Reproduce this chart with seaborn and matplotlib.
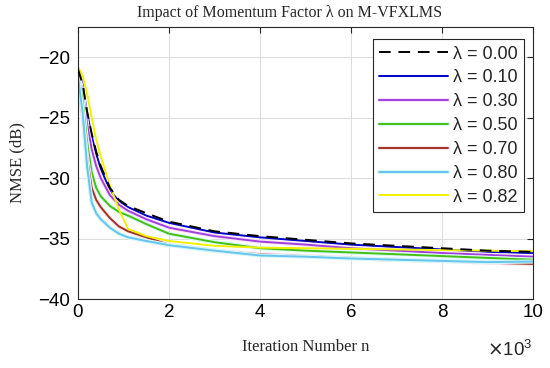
import matplotlib
matplotlib.use('Agg')
from matplotlib import pyplot as plt
from matplotlib.ticker import FuncFormatter
import matplotlib.patheffects as pe
import seaborn as sns
import pandas as pd
import numpy as np

# iteration index and NMSE (dB) curves
iters = [0, 100, 200, 300, 400, 500, 700, 900, 1100, 1500, 2000,
         3000, 4000, 5000, 6000, 7000, 8000, 9000, 10000]
nmse_000 = [-21.0, -22.2, -24.5, -26.3, -27.8, -29.0, -30.8, -31.8, -32.3, -32.9, -33.6,
            -34.4, -34.8, -35.1, -35.4, -35.6, -35.8, -36.0, -36.1]
nmse_010 = [-21.0, -22.2, -24.6, -26.5, -28.0, -29.2, -31.0, -31.9, -32.4, -33.1, -33.7,
            -34.5, -34.9, -35.2, -35.5, -35.7, -35.9, -36.1, -36.2]
nmse_030 = [-21.2, -22.8, -25.5, -27.6, -29.0, -30.0, -31.4, -32.2, -32.7, -33.4, -34.1,
            -34.8, -35.25, -35.5, -35.8, -36.0, -36.2, -36.35, -36.5]
nmse_050 = [-21.3, -23.5, -27.0, -29.5, -30.8, -31.5, -32.3, -32.8, -33.1, -33.8, -34.6,
            -35.3, -35.8, -36.0, -36.15, -36.3, -36.45, -36.6, -36.75]
nmse_070 = [-22.0, -25.0, -28.3, -30.8, -31.8, -32.4, -33.3, -34.0, -34.4, -34.9, -35.5,
            -36.0, -36.3, -36.45, -36.6, -36.75, -36.85, -37.0, -37.1]
nmse_080 = [-21.6, -24.5, -29.0, -32.0, -32.9, -33.4, -34.1, -34.6, -34.9, -35.2, -35.55,
            -36.0, -36.4, -36.5, -36.65, -36.75, -36.85, -36.95, -36.9]
nmse_082 = [-20.8, -21.5, -23.0, -25.0, -26.8, -28.2, -30.6, -32.6, -34.2, -34.8, -35.2,
            -35.6, -35.75, -35.8, -35.85, -35.9, -35.95, -36.0, -36.05]

labels = ['λ = 0.00', 'λ = 0.10', 'λ = 0.30', 'λ = 0.50', 'λ = 0.70', 'λ = 0.80', 'λ = 0.82']
series = [nmse_000, nmse_010, nmse_030, nmse_050, nmse_070, nmse_080, nmse_082]
colors = ['#000000', '#0000c8', '#a040e0', '#44c010', '#a03424', '#66c4ee', '#f0f000']
halos = [None, None, '#fbe4f8', '#daf8f8', '#fbe4ec', '#d6f8fa', None]

sns.set_style('white')
plt.rcParams['font.family'] = ['Liberation Sans', 'DejaVu Sans']

fig = plt.figure(figsize=(5.5, 3.68), dpi=100)
ax = fig.add_axes([0.1418, 0.1875, 0.8273, 0.7391])

for i, (lab, vals) in enumerate(zip(labels, series)):
    df = pd.DataFrame({'n': iters, 'nmse': vals})
    effects = None
    if halos[i] is not None:
        effects = [pe.Stroke(linewidth=3, foreground=halos[i]), pe.Normal()]
    sns.lineplot(data=df, x='n', y='nmse', ax=ax, color=colors[i], lw=1.4,
                 label=lab, linestyle='--' if i == 0 else '-',
                 path_effects=effects, zorder=3 if i == 0 else 2)

ax.lines[0].set_dashes([6, 4])
ax.set_xlim(0, 10000)
ax.set_ylim(-40, -17.5)
ax.set_xticks([0, 2000, 4000, 6000, 8000, 10000])
ax.set_yticks([-40, -35, -30, -25, -20])
ax.xaxis.set_major_formatter(FuncFormatter(lambda v, p: '%d' % round(v / 1000)))
ax.yaxis.set_major_formatter(FuncFormatter(lambda v, p: '\u2212%d' % abs(v)))
ax.tick_params(direction='in', length=4, width=0.8, labelsize=13.5, top=True, right=True,
               colors='#262626', labelcolor='black')
ax.tick_params(axis='y', pad=6)
ax.grid(True, color='#dcdcdc', lw=0.7)
for s in ax.spines.values():
    s.set_color('#262626')
    s.set_linewidth(0.8)

ax.set_xlabel('Iteration Number n', family='Liberation Serif', fontsize=12, labelpad=13)
ax.set_ylabel('NMSE (dB)', family='Liberation Serif', fontsize=12, labelpad=9)
fig.text(0.526, 0.965, 'Impact of Momentum Factor λ on M-VFXLMS',
         family='Liberation Serif', fontsize=11.5, ha='center', va='center')
fig.text(0.969, 0.048, r'$\times\mathregular{10^3}$', fontsize=13.5, ha='right', va='center')

leg = ax.legend(loc='upper right', bbox_to_anchor=(0.981, 0.955), fontsize=13,
                handlelength=3.8, frameon=True, fancybox=False, borderpad=0.35,
                labelspacing=0.38, handletextpad=0.3, borderaxespad=0)
leg.get_frame().set_edgecolor('#262626')
leg.get_frame().set_linewidth(0.8)
leg.get_frame().set_alpha(1)

fig.savefig('out.png', dpi=100)
